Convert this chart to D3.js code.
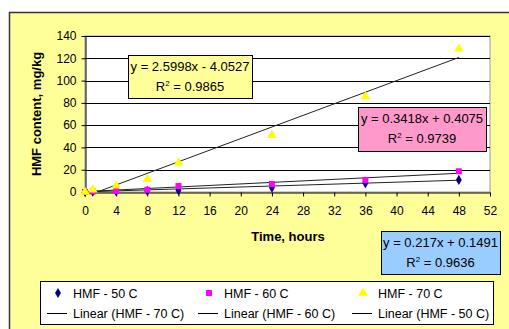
<!DOCTYPE html>
<html>
<head>
  <meta charset="UTF-8">
  <title>HMF content</title>
  <script src="https://cdn.jsdelivr.net/npm/d3@7"></script>
  <style>
    body { margin: 0; background: #fff; }
    svg text { font-family: Arial, "Liberation Sans", sans-serif; }
  </style>
</head>
<body>
<svg id="chart" width="509" height="329"></svg>
<script>
// hours of heating
const hours = [0, 1, 4, 8, 12, 24, 36, 48];
// HMF content, mg/kg
const hmf50 = [0, 0.2, 0.5, 1, 1.5, 3.9, 7.8, 10.8];
const hmf60 = [0, 0.5, 1, 2, 5.4, 7.2, 10.8, 18.6];
const hmf70 = [0, 2, 5.6, 11.4, 26.3, 51, 85.5, 128.6];
// trendline coefficients as printed on the chart
const trendNames = ['Linear (HMF - 70 C)', 'Linear (HMF - 60 C)', 'Linear (HMF - 50 C)'];
const trendSlope = [2.5998, 0.3418, 0.217];
const trendIntercept = [-4.0527, 0.4075, 0.1491];
const trendR2 = ['0.9865', '0.9739', '0.9636'];
const xTicks = d3.range(0, 53, 4);
const yTicks = d3.range(0, 141, 20);

const svg = d3.select('#chart');

// outer chart area
svg.append('rect').attr('x', 9.5).attr('y', 12.5).attr('width', 520).attr('height', 330)
  .attr('fill', '#ffff99').attr('stroke', '#333').attr('stroke-width', 1.5);

const plotLeft = 85, plotRight = 490, plotTop = 36, plotBottom = 192;
const x = d3.scaleLinear().domain([0, 52]).range([plotLeft, plotRight]);
const y = d3.scaleLinear().domain([0, 140]).range([plotBottom, plotTop]);

// plot area
svg.append('rect').attr('x', plotLeft).attr('y', plotTop).attr('width', plotRight - plotLeft).attr('height', plotBottom - plotTop)
  .attr('fill', '#fff').attr('stroke', '#999').attr('stroke-width', 1);

svg.append('g')
  .selectAll('line').data(yTicks.filter(d => d > 0)).enter().append('line')
  .attr('x1', plotLeft).attr('x2', plotRight)
  .attr('y1', d => Math.round(y(d)) + 0.5).attr('y2', d => Math.round(y(d)) + 0.5)
  .attr('stroke', '#000');

const xAxis = svg.append('g').attr('transform', `translate(0,${plotBottom + 0.5})`)
  .call(d3.axisBottom(x).tickValues(xTicks).tickSize(4).tickPadding(10).tickSizeOuter(0));
const yAxis = svg.append('g').attr('transform', `translate(${plotLeft + 0.5},0)`)
  .call(d3.axisLeft(y).tickValues(yTicks).tickSize(4).tickPadding(5).tickSizeOuter(0));
[xAxis, yAxis].forEach(a =>
{
  a.selectAll('text').attr('font-size', 12).attr('fill', '#000').attr('font-family', 'Arial, "Liberation Sans", sans-serif');
  a.selectAll('line, path').attr('stroke', '#000');
});

svg.append('text').attr('x', 288).attr('y', 241).attr('text-anchor', 'middle')
  .attr('font-size', 13).attr('font-weight', 'bold').text('Time, hours');
svg.append('text').attr('transform', 'translate(41,114) rotate(-90)').attr('text-anchor', 'middle')
  .attr('font-size', 13).attr('font-weight', 'bold').text('HMF content, mg/kg');

// trend lines, clipped to the plot area
svg.append('clipPath').attr('id', 'plotClip').append('rect')
  .attr('x', plotLeft).attr('y', plotTop).attr('width', plotRight - plotLeft).attr('height', plotBottom - plotTop);
const trends = svg.append('g').attr('clip-path', 'url(#plotClip)');
trendSlope.forEach((m, i) =>
{
  trends.append('line')
    .attr('x1', x(0)).attr('y1', y(trendIntercept[i]))
    .attr('x2', x(48)).attr('y2', y(m * 48 + trendIntercept[i]))
    .attr('stroke', '#222').attr('stroke-width', 1);
});

const diamond = d3.symbol().type(d3.symbolDiamond).size(30);
const square = d3.symbol().type(d3.symbolSquare).size(36);
const triangle = d3.symbol().type(d3.symbolTriangle).size(40);

function drawSeries(values, sym, color)
{
  svg.append('g').selectAll('path').data(values).enter().append('path')
    .attr('d', sym)
    .attr('transform', (d, i) => `translate(${x(hours[i])},${y(d)})`)
    .attr('fill', color);
}
drawSeries(hmf50, diamond, '#000080');
drawSeries(hmf60, square, '#ff00ff');
drawSeries(hmf70, triangle, '#ffff00');

// equation boxes
function eqBox(bx, by, bw, bh, fill, i)
{
  const g = svg.append('g');
  g.append('rect').attr('x', bx + 0.5).attr('y', by + 0.5).attr('width', bw).attr('height', bh)
    .attr('fill', fill).attr('stroke', '#000');
  const cx = bx + bw / 2;
  const b = trendIntercept[i];
  const sign = b < 0 ? ' - ' : ' + ';
  g.append('text').attr('x', cx).attr('y', by + 16).attr('text-anchor', 'middle').attr('font-size', 13)
    .text(`y = ${trendSlope[i]}x${sign}${Math.abs(b)}`);
  const t = g.append('text').attr('x', cx).attr('y', by + 36).attr('text-anchor', 'middle').attr('font-size', 13);
  t.append('tspan').text('R');
  t.append('tspan').attr('font-size', 8).attr('dy', -5).text('2');
  t.append('tspan').attr('dy', 5).text(' = ' + trendR2[i]);
}
eqBox(128, 55, 124, 43, '#ffff99', 0);
eqBox(358, 107, 128, 44, '#ff99cc', 1);
eqBox(381, 231, 119, 43, '#99ccff', 2);

// legend
const legend = svg.append('g');
legend.append('rect').attr('x', 40.5).attr('y', 281.5).attr('width', 453).attr('height', 43)
  .attr('fill', '#fff').attr('stroke', '#000');
const colX = [58, 209, 363];
const seriesNames = ['HMF - 50 C', 'HMF - 60 C', 'HMF - 70 C'];
const seriesSym = [diamond, square, triangle];
const seriesColor = ['#000080', '#ff00ff', '#ffff00'];
seriesNames.forEach((n, i) =>
{
  legend.append('path').attr('d', seriesSym[i]).attr('transform', `translate(${colX[i]},293)`).attr('fill', seriesColor[i]);
  legend.append('text').attr('x', colX[i] + 15).attr('y', 297.5).attr('font-size', 12.5).text(n);
});
trendNames.forEach((n, i) =>
{
  legend.append('line').attr('x1', colX[i] - 11).attr('x2', colX[i] + 9).attr('y1', 313.5).attr('y2', 313.5).attr('stroke', '#000');
  legend.append('text').attr('x', colX[i] + 15).attr('y', 317.5).attr('font-size', 12.5).text(n);
});
</script>
</body>
</html>
